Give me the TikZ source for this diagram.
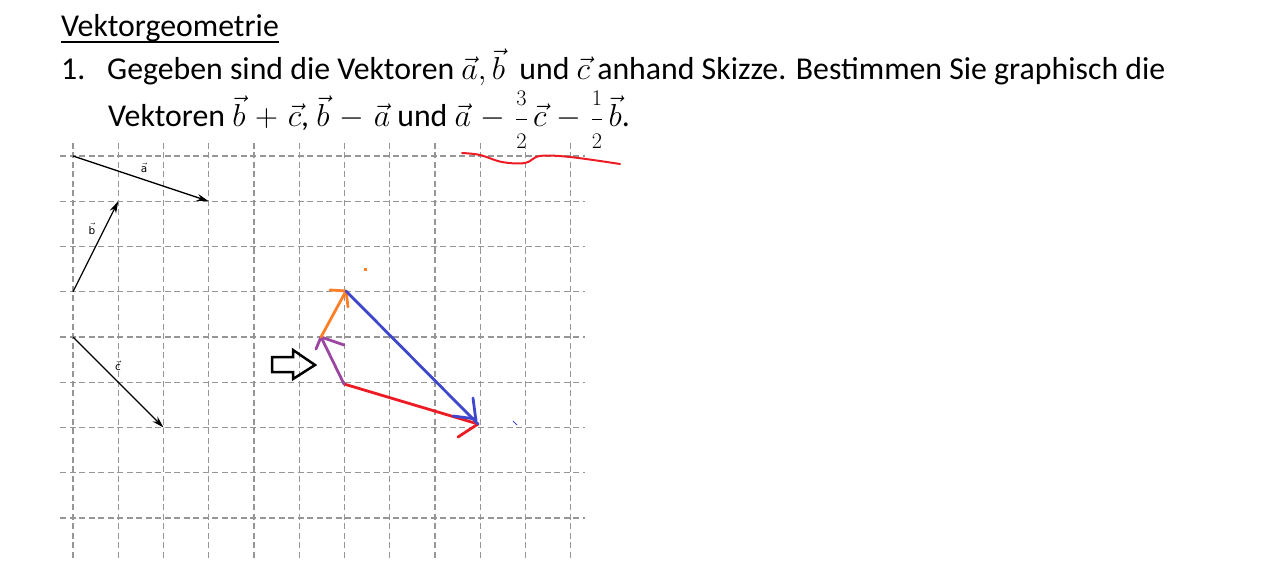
\RequirePackage{fix-cm}
\documentclass[tikz,border=0pt]{standalone}
\usepackage{fontspec}
\setmainfont{Carlito}
\newfontfamily\labelfont{DejaVu Sans}
\usetikzlibrary{arrows.meta}
\definecolor{gridgray}{RGB}{150,150,150}
\definecolor{penred}{RGB}{237,28,36}
\definecolor{penblue}{RGB}{63,72,204}
\definecolor{penpurple}{RGB}{155,70,160}
\definecolor{penorange}{RGB}{255,127,39}
\newcommand{\sfrc}[2]{{\displaystyle\frac{\scriptstyle #1}{\scriptstyle #2}}}
\tikzset{
  gridline/.style={gridgray, line width=1.1pt, dash pattern=on 6pt off 3.5pt},
  txt/.style={anchor=base west, inner sep=0pt, font=\fontsize{31.8}{38}\selectfont},
  vecarrow/.style={black, line width=1.3pt, -{Stealth[length=12pt,width=7pt]}},
  vlabel/.style={inner sep=0pt, font=\labelfont\fontsize{10.5}{10.5}\selectfont},
  pen/.style={line width=2.8pt, line cap=round, line join=round},
}
\begin{document}
\begin{tikzpicture}[x=1pt,y=-1pt]
\useasboundingbox (0,0) rectangle (1265,561);

% grid
\foreach \i in {0,...,11} \draw[gridline] ({73+45.25*\i},143) -- ({73+45.25*\i},561);
\foreach \j in {0,...,8} \draw[gridline] (60,{156+45.25*\j}) -- (585,{156+45.25*\j});

% texts
\node[txt] (title) at (61,37) {Vektorgeometrie};
\draw[line width=1.8pt] ([yshift=-5pt]title.base west) -- ([yshift=-5pt]title.base east);
\node[txt] (n1) at (61,80) {1.};
\node[txt] (l1) at (107,80) {Gegeben sind die Vektoren $\vec a,\vec b$\ \ und $\vec c$ anhand Skizze. Bestimmen Sie graphisch die};
\node[txt] (l2) at (108,127) {\medmuskip=5.5mu plus 2mu minus 4mu Vektoren $\vec b+\vec c$, $\vec b-\vec a$ und $\vec a-\sfrc{3}{2}\,\vec c-\sfrc{1}{2}\,\vec b$.};

% red wavy underline
\draw[penred, line width=2pt, line cap=round] plot[smooth, tension=0.6] coordinates {(462,153) (480,155) (502,162) (525,163) (540,156) (570,157) (620,164)};

% given vectors
\coordinate (a0) at (73,156);
\coordinate (a1) at (208.75,201.25);
\coordinate (b0) at (73,291.75);
\coordinate (b1) at (118.25,201.25);
\coordinate (c0) at (73,337);
\coordinate (c1) at (163.5,427.5);
\draw[vecarrow] (a0) -- (a1);
\draw[vecarrow] (b0) -- (b1);
\draw[vecarrow] (c0) -- (c1);
\node[vlabel] (la) at (144,168) {$\vec{\hbox{a}}$};
\node[vlabel] (lb) at (92,229) {$\vec{\hbox{b}}$};
\node[vlabel] (lc) at (118,366) {$\vec{\hbox{c}}$};

% block arrow
\draw[line width=2.5pt, line join=miter] (272,357) -- (293,357) -- (293,350) -- (315,365) -- (293,379) -- (293,372) -- (272,372) -- cycle;

% hand-drawn solution
\coordinate (p0) at (344,384);
\coordinate (p1) at (321,337);
\coordinate (p2) at (346,291);
\coordinate (p3) at (478,424);
% red
\draw[pen, penred] (p0) -- (p3);
\draw[pen, penred] (458,437) -- (p3);
% purple
\draw[pen, penpurple] (p0) -- (p1);
\draw[pen, penpurple] (316,349) -- (p1) -- (344,345);
% orange
\draw[pen, penorange] (p1) -- (p2);
\draw[pen, penorange] (330,290) -- (p2) -- (348,307);
\fill[penorange] (363.5,267.5) rectangle (366.5,270.5);
% blue
\draw[pen, penblue] (p2) -- (p3);
\draw[pen, penblue] (473,398) -- (476,421);
\draw[pen, penblue] (453,416) -- (476,419);
\draw[penblue, line width=0.8pt] (513,421) -- (517,425);
\end{tikzpicture}
\end{document}
